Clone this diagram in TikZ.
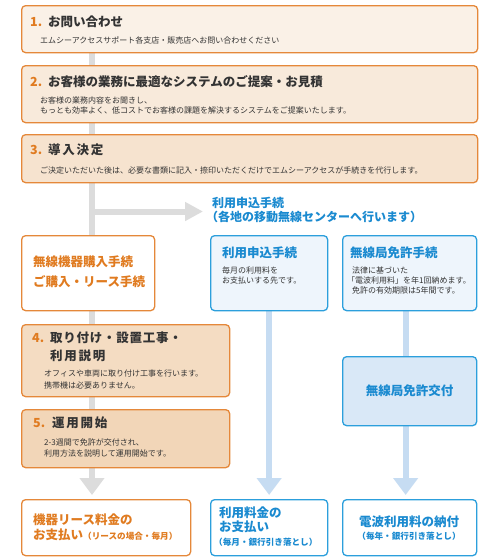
\documentclass[tikz,border=0pt]{standalone}
\usepackage{fontspec}
\setmainfont{Noto Sans CJK JP}
\usetikzlibrary{arrows.meta,calc}
\pgfdeclarelayer{bgl}
\pgfsetlayers{bgl,main}
\definecolor{orB}{HTML}{E5883A}
\definecolor{orT}{HTML}{E07B20}
\definecolor{dk}{HTML}{333333}
\definecolor{cA}{HTML}{FAF1E7}
\definecolor{cB}{HTML}{F8EADB}
\definecolor{cC}{HTML}{F6E3CF}
\definecolor{cD}{HTML}{F4DCC2}
\definecolor{cE}{HTML}{F2D6B8}
\definecolor{blB}{HTML}{2C9FDC}
\definecolor{blT}{HTML}{1A8AD0}
\definecolor{blL}{HTML}{EEF5FC}
\definecolor{blM}{HTML}{D9E8F7}
\definecolor{grS}{HTML}{DCDCDC}
\definecolor{blS}{HTML}{C6DCF2}
\newcommand\ttlf{\fontsize{12.5}{15}\selectfont\bfseries}
\newcommand\bdyf{\fontsize{8}{10}\selectfont}
\newcommand\smlf{\fontsize{8.6}{10}\selectfont\bfseries}
\newcommand\spc{\addfontfeature{LetterSpace=14}}
\newcommand\spcb{\addfontfeature{LetterSpace=6}}
\tikzset{
  obox/.style={draw=orB, line width=1.3pt, rounded corners=4pt, inner sep=0pt, anchor=north west, rectangle},
  bbox/.style={draw=blB, line width=1.3pt, rounded corners=4pt, inner sep=0pt, anchor=north west, rectangle},
  num/.style={anchor=west, inner sep=0pt, text=orT, font=\ttlf},
  ttl/.style={anchor=west, inner sep=0pt, text=dk, font=\ttlf},
  bdy/.style={anchor=west, inner sep=0pt, text=dk, font=\bdyf, align=left},
  otxt/.style={anchor=west, inner sep=0pt, text=orT, font=\ttlf, align=left},
  btxt/.style={anchor=west, inner sep=0pt, text=blT, font=\ttlf, align=left},
  gshaft/.style={draw=grS, line width=6pt},
  bshaft/.style={draw=blS, line width=6pt, -{Triangle[width=24pt,length=17pt]}, shorten >=4pt},
}
\begin{document}
\begin{tikzpicture}[x=1pt,y=-1pt]
\useasboundingbox (0,0) rectangle (500,560);
% boxes
\path
  node[obox, fill=cA, minimum width=456pt, minimum height=47pt] (b1) at (21,5) {}
  node[obox, fill=cB, minimum width=456pt, minimum height=57pt] (b2) at (21,65) {}
  node[obox, fill=cC, minimum width=456pt, minimum height=48pt] (b3) at (21,134) {}
  node[obox, fill=white, minimum width=133pt, minimum height=75pt] (bL) at (21,235) {}
  node[bbox, fill=blL, minimum width=117pt, minimum height=75pt] (bA) at (210,235) {}
  node[bbox, fill=blL, minimum width=134pt, minimum height=75pt] (bB) at (342,235) {}
  node[obox, fill=cD, minimum width=208pt, minimum height=72pt] (b4) at (21,324) {}
  node[obox, fill=cE, minimum width=208pt, minimum height=58pt] (b5) at (21,409) {}
  node[bbox, fill=blM, minimum width=134pt, minimum height=69pt] (bC) at (342,356) {}
  node[obox, fill=white, minimum width=169pt, minimum height=56pt] (botL) at (21,499) {}
  node[bbox, fill=white, minimum width=117pt, minimum height=56pt] (botA) at (210,499) {}
  node[bbox, fill=white, minimum width=134pt, minimum height=56pt] (botB) at (342,499) {};
% connectors (behind boxes)
\coordinate (t0) at (92,52);
\coordinate (br) at (92,211.5);
\coordinate (brEnd) at (203,211.5);
\begin{pgfonlayer}{bgl}
\fill[white] (0,0) rectangle (500,560);
\draw[gshaft, -{Triangle[width=24pt,length=17pt]}, shorten >=4pt] (t0) -- (t0 |- botL.north);
\draw[gshaft, -{Triangle[width=18pt,length=18pt]}] (br) -- (brEnd);
\draw[bshaft] (bA.south) -- (bA.south |- botA.north);
\draw[bshaft] ([xshift=-4pt]bB.south) -- ([xshift=-4pt]bB.south |- botB.north);
\end{pgfonlayer}
% texts
\node[num] (n1) at (30,22) {1.};
\node[ttl] (t1) at (48,22) {お問い合わせ};
\node[bdy] (d1) at (40,40) {エムシーアクセスサポート各支店・販売店へお問い合わせください};
\node[num] (n2) at (30,82) {2.};
\node[ttl] (t2) at (48,82) {お客様の業務に最適なシステムのご提案・お見積};
\node[bdy] (d2) at (40,105) {お客様の業務内容をお聞きし、\\もっとも効率よく、低コストでお客様の課題を解決するシステムをご提案いたします。};
\node[num] (n3) at (30,150) {3.};
\node[ttl] (t3) at (48,150) {\spc 導入決定};
\node[bdy] (d3) at (40,170) {ご決定いただいた後は、必要な書類に記入・捺印いただくだけでエムシーアクセスが手続きを代行します。};
\node[btxt, font=\fontsize{12}{14}\selectfont\bfseries] (h1) at (212,203) {利用申込手続};
\node[btxt, font=\fontsize{12}{14}\selectfont\bfseries] (h2) at (206,217) {（各地の移動無線センターへ行います）};
\node[otxt] (l1) at (33,262) {無線機器購入手続};
\node[otxt] (l2) at (33,282) {ご購入・リース手続};
\node[btxt] (a1) at (222,253) {利用申込手続};
\node[bdy] (a2) at (222,275) {毎月の利用料を\\お支払いする先です。};
\node[btxt] (bb1) at (350,253) {無線局免許手続};
\node[bdy] (bb2) at (347,280) {\hspace*{5pt}法律に基づいた\\「電波利用料」を年1回納めます。\\\hspace*{5pt}免許の有効期限は5年間です。};
\node[num] (n4) at (32,338) {4.};
\node[ttl] (t4a) at (50,338) {\spcb 取り付け・設置工事・};
\node[ttl] (t4b) at (50,356) {\spc 利用説明};
\node[bdy, font=\fontsize{8}{12}\selectfont] (d4) at (44,379) {オフィスや車両に取り付け工事を行います。\\携帯機は必要ありません。};
\node[num] (n5) at (33,423) {5.};
\node[ttl] (t5) at (52,423) {\spc 運用開始};
\node[bdy, font=\fontsize{8}{11}\selectfont] (d5) at (44,447.5) {2-3週間で免許が交付され、\\利用方法を説明して運用開始です。};
\node[btxt, anchor=center] (c1) at (bC.center) {無線局免許交付};
\node[otxt] (e1) at (33,520) {機器リース料金の};
\node[otxt] (e2) at (33,535) {お支払い{\smlf（リースの場合・毎月）}};
\node[btxt] (f1) at (219,513) {利用料金の};
\node[btxt] (f2) at (219,527) {お支払い};
\node[btxt, font=\smlf] (f3) at (214,542) {（毎月・銀行引き落とし）};
\node[btxt, anchor=center] (g1) at (409,522) {電波利用料の納付};
\node[btxt, anchor=center, font=\smlf] (g2) at (409,536) {（毎年・銀行引き落とし）};
\end{tikzpicture}
\end{document}
